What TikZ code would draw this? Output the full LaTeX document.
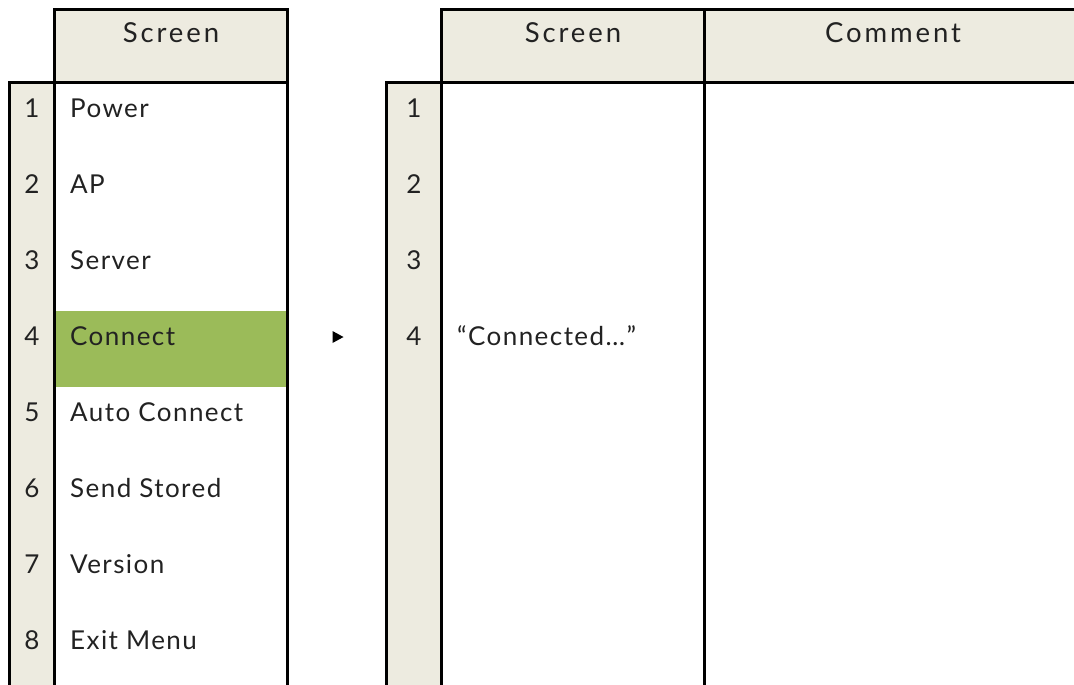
\documentclass[tikz,border=0pt]{standalone}
\usepackage{fontspec}
\setmainfont{Lato}
\newfontfamily\hdrfont[LetterSpace=10.5]{Lato}
\newfontfamily\bodyfont[LetterSpace=5.5]{Lato}
\definecolor{hdr}{HTML}{EDEBE0}
\definecolor{sel}{HTML}{9BBB59}
\definecolor{txt}{HTML}{222222}
\tikzset{
  grid/.style={line width=3pt, black},
  cell/.style={font=\bodyfont\fontsize{26}{30}\selectfont, text=txt, inner sep=0pt},
  head/.style={font=\hdrfont\fontsize{27.5}{32}\selectfont, text=txt, inner sep=0pt, anchor=center},
  num/.style={cell, anchor=center},
  lbl/.style={cell, anchor=west},
}
\begin{document}
\begin{tikzpicture}[x=1pt,y=-1pt]
\useasboundingbox (0,0) rectangle (1074,685);
% fills
\fill[hdr] (54,10) rectangle (287,83);
\fill[hdr] (9,83) rectangle (54,685);
\fill[hdr] (441,10) rectangle (1074,83);
\fill[hdr] (386,83) rectangle (441,685);
\fill[sel] (54,311) rectangle (287,387);
% grid left
\draw[grid] (54,685) -- (54,10) -- (287,10) -- (287,685);
\draw[grid] (9,685) -- (9,83) -- (287,83);
% grid right
\draw[grid] (441,685) -- (441,10) -- (1074,10);
\draw[grid] (386,685) -- (386,83) -- (1074,83);
\draw[grid] (704,10) -- (704,685);
% headers
\node[head] (h1) at (171,33) {Screen};
\node[head] (h2) at (573,33) {Screen};
\node[head] (h3) at (893,33) {Comment};
% left rows
\foreach \i/\t in {1/Power,2/AP,3/Server,4/Connect,5/Auto Connect,6/Send Stored,7/Version,8/Exit Menu}{
  \node[num] (ln\i) at (32,{83+76*(\i-1)+25}) {\i};
  \node[lbl] (lt\i) at (70,{83+76*(\i-1)+25}) {\t};
}
% right rows
\foreach \i in {1,2,3,4}{
  \node[num] (rn\i) at (414,{83+76*(\i-1)+25}) {\i};
}
\node[lbl] (rt4) at (457,{83+76*3+25}) {“Connected…”};
% arrow marker
\node[inner sep=0pt] (mk) at (337.5,337) {};
\fill[black] ([shift={(-5,-6)}]mk.center) -- ([shift={(6,0)}]mk.center) -- ([shift={(-5,6)}]mk.center) -- cycle;
\end{tikzpicture}
\end{document}
